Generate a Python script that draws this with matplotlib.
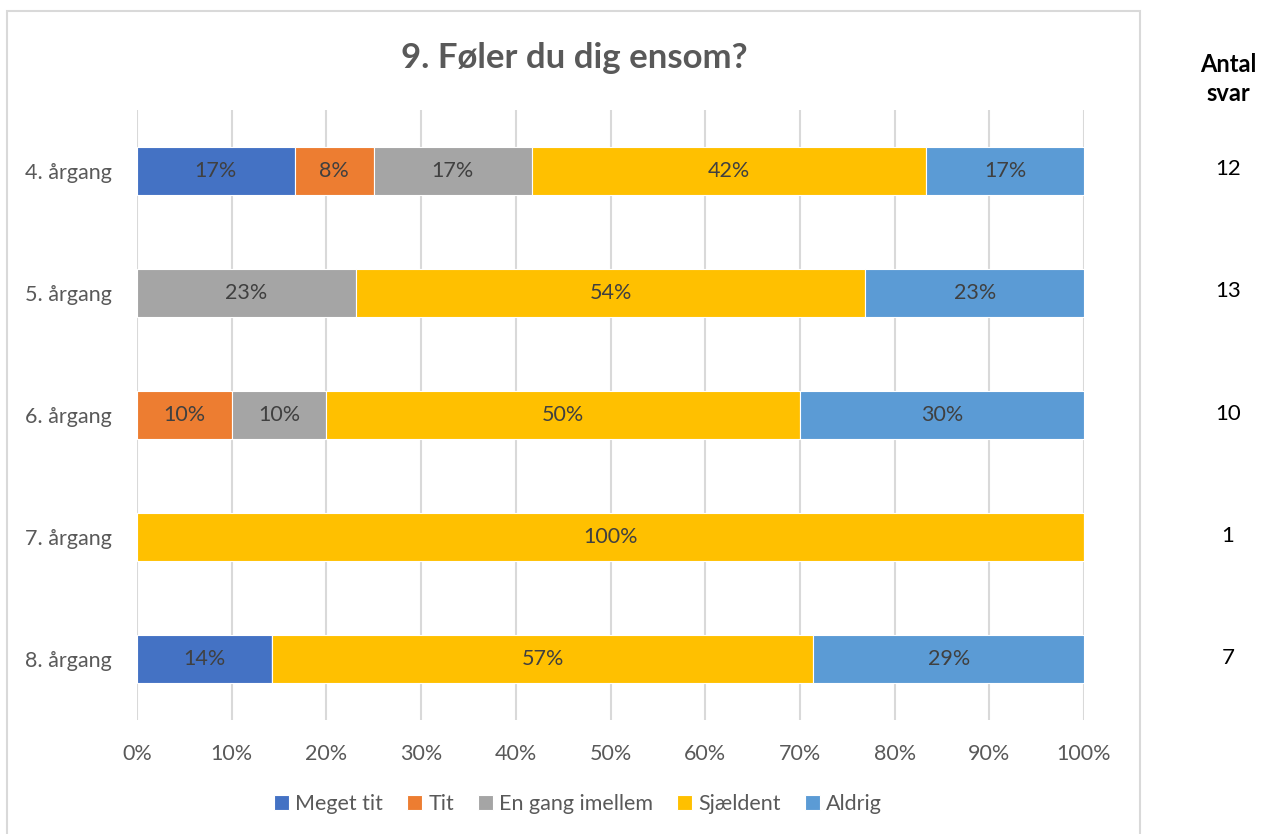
import numpy as np
import matplotlib.pyplot as plt
from matplotlib.patches import Rectangle

plt.rcParams['font.family'] = ['Lato', 'DejaVu Sans']

groups = ["4. årgang", "5. årgang", "6. årgang", "7. årgang", "8. årgang"]
series = ["Meget tit", "Tit", "En gang imellem", "Sjældent", "Aldrig"]
colors = ["#4472C4", "#ED7D31", "#A5A5A5", "#FFC000", "#5B9BD5"]

# antal svar pr. kategori
meget_tit = [2, 0, 0, 0, 1]
tit = [1, 0, 1, 0, 0]
en_gang = [2, 3, 1, 0, 0]
sjaeldent = [5, 7, 5, 1, 4]
aldrig = [2, 3, 3, 0, 2]
antal = [12, 13, 10, 1, 7]

counts = np.array([meget_tit, tit, en_gang, sjaeldent, aldrig], dtype=float)
pct = counts / np.array(antal) * 100

fig = plt.figure(figsize=(12.62, 8.34), dpi=100)
fig.patches.append(Rectangle((7 / 1262, -0.01), 1133 / 1262, 1 - 11 / 834 + 0.01,
                             transform=fig.transFigure, fill=False,
                             edgecolor="#d9d9d9", linewidth=1.5))
ax = fig.add_axes([137 / 1262, 114 / 834, 947 / 1262, 610 / 834])

y = np.arange(len(groups))
left = np.zeros(len(groups))
for i, name in enumerate(series):
    bars = ax.barh(y, pct[i], left=left, height=0.4, color=colors[i],
                   edgecolor="white", linewidth=0.8, label=name, zorder=3)
    for j, b in enumerate(bars):
        if pct[i][j] > 0:
            ax.text(left[j] + pct[i][j] / 2, y[j], f"{pct[i][j]:.0f}%",
                    ha="center", va="center", fontsize=15.5, color="#404040", zorder=4)
    left += pct[i]

ax.set_xlim(0, 100)
ax.set_ylim(4.5, -0.5)
ax.set_yticks(y)
ax.set_yticklabels(groups)
ax.set_xticks(np.arange(0, 101, 10))
ax.set_xticklabels([f"{v}%" for v in range(0, 101, 10)])
ax.tick_params(axis="both", length=0, labelsize=15.5, labelcolor="#595959")
ax.tick_params(axis="y", pad=18)
ax.tick_params(axis="x", pad=17)
ax.grid(axis="x", color="#d9d9d9", linewidth=1.5, zorder=0)
for s in ax.spines.values():
    s.set_visible(False)

fig.text(574 / 1262, 1 - 58 / 834, "9. Føler du dig ensom?", ha="center", va="center",
         fontsize=25, fontweight="bold", color="#595959")

fig.text(1228 / 1262, 1 - 79 / 834, "Antal\nsvar", ha="center", va="center",
         fontsize=17, fontweight="bold", color="black", linespacing=1.3)
for j, n in enumerate(antal):
    fig.text(1228 / 1262, 1 - (169 + j * 122.3) / 834, str(n), ha="center", va="center",
             fontsize=16, color="black")

ax.legend(loc="center", bbox_to_anchor=(578 / 1262, 1 - 804 / 834),
          bbox_transform=fig.transFigure, ncol=5, frameon=False, fontsize=15.5,
          handlelength=0.7, handleheight=0.7, handletextpad=0.3, columnspacing=1.1,
          labelcolor="#595959")

fig.savefig("out.png", dpi=100)
